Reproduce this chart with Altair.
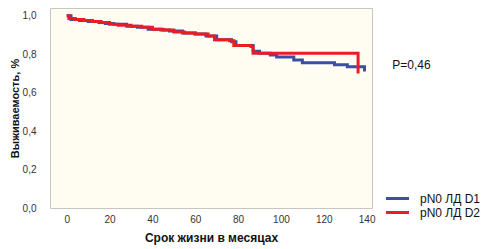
import altair as alt
import pandas as pd

months_d1 = [0, 2, 6, 10, 15, 18, 22, 28, 33, 38, 44, 48, 54, 60, 65, 70, 77, 79, 87, 90, 95, 98, 106, 110, 125, 131, 139]
surv_d1 = [1.0, 0.98, 0.975, 0.97, 0.965, 0.96, 0.955, 0.945, 0.94, 0.93, 0.925, 0.92, 0.91, 0.905, 0.895, 0.875, 0.865, 0.845, 0.815, 0.805, 0.795, 0.785, 0.77, 0.755, 0.745, 0.734, 0.71]

months_d2 = [0, 1, 4, 8, 12, 16, 20, 24, 30, 35, 40, 45, 50, 55, 60, 66, 69, 76, 78, 86, 87, 136, 136]
surv_d2 = [1.0, 0.985, 0.98, 0.975, 0.97, 0.965, 0.955, 0.95, 0.945, 0.94, 0.93, 0.925, 0.915, 0.91, 0.905, 0.895, 0.875, 0.87, 0.845, 0.84, 0.805, 0.805, 0.70]

series_names = ["pN0 ЛД D1", "pN0 ЛД D2"]
series_colors = ["#3B4FA3", "#EC1C24"]

p_text = "P=0,46"
p_x = 152
p_y = 0.745

rows = []
for m, s in zip(months_d1, surv_d1):
    rows.append({"month": m, "surv": s, "group": series_names[0], "idx": len(rows), "t": ""})
for m, s in zip(months_d2, surv_d2):
    rows.append({"month": m, "surv": s, "group": series_names[1], "idx": len(rows), "t": ""})
df = pd.DataFrame(rows)
tdf = pd.DataFrame({"month": [p_x], "surv": [p_y], "t": [p_text]})

FONT = "Liberation Sans"
comma = "replace(format(datum.value, '.1f'), '.', ',')"

x = alt.X("month:Q",
          scale=alt.Scale(domain=[-7.8, 142.5], nice=False, zero=False),
          axis=alt.Axis(values=[0, 20, 40, 60, 80, 100, 120, 140], title="Срок жизни в месяцах",
                        grid=False, ticks=False, domain=False, labelPadding=6,
                        labelOverlap=False, labelFlush=False,
                        labelFontSize=10, labelColor="#333333", labelFont=FONT,
                        titleFont=FONT, titleFontSize=12, titleFontWeight="bold",
                        titleColor="#111111", titlePadding=8))
y = alt.Y("surv:Q",
          scale=alt.Scale(domain=[0, 1.04], nice=False),
          axis=alt.Axis(values=[0, 0.2, 0.4, 0.6, 0.8, 1.0], labelExpr=comma,
                        title="Выживаемость, %", grid=False, ticks=False, domain=False,
                        labelOverlap=False, labelFlush=False,
                        labelPadding=14, labelFontSize=10, labelColor="#333333", labelFont=FONT,
                        titleFont=FONT, titleFontSize=11, titleFontWeight="bold",
                        titleColor="#111111", titlePadding=2))

lines = alt.Chart(df).mark_line(interpolate="step-after", strokeWidth=3).encode(
    x=x, y=y,
    order="idx:Q",
    color=alt.Color("group:N",
                    scale=alt.Scale(domain=series_names, range=series_colors),
                    legend=alt.Legend(title=None, orient="none", legendX=341, legendY=184,
                                      symbolType="M-2.3,0H2.3", symbolSize=100, symbolStrokeWidth=3,
                                      labelFont=FONT, labelFontSize=12, labelColor="#111111",
                                      labelOffset=16, rowPadding=1, padding=0))
)

ptext = alt.Chart(tdf).mark_text(
    align="left", baseline="middle", font=FONT, fontSize=12, color="#111111"
).encode(x=x, y=y, text="t:N")

chart = (lines + ptext).properties(
    width=322, height=200,
    autosize=alt.AutoSizeParams(type="none"),
    padding={"left": 42, "top": 0, "right": 108, "bottom": 41},
    background="white",
).configure_view(fill="#FFFCF2", stroke="#C9C6C0", strokeWidth=1
).configure_axis(labelOverlap=False)

chart.save("out.html", embed_options={"renderer": "svg", "actions": False})
